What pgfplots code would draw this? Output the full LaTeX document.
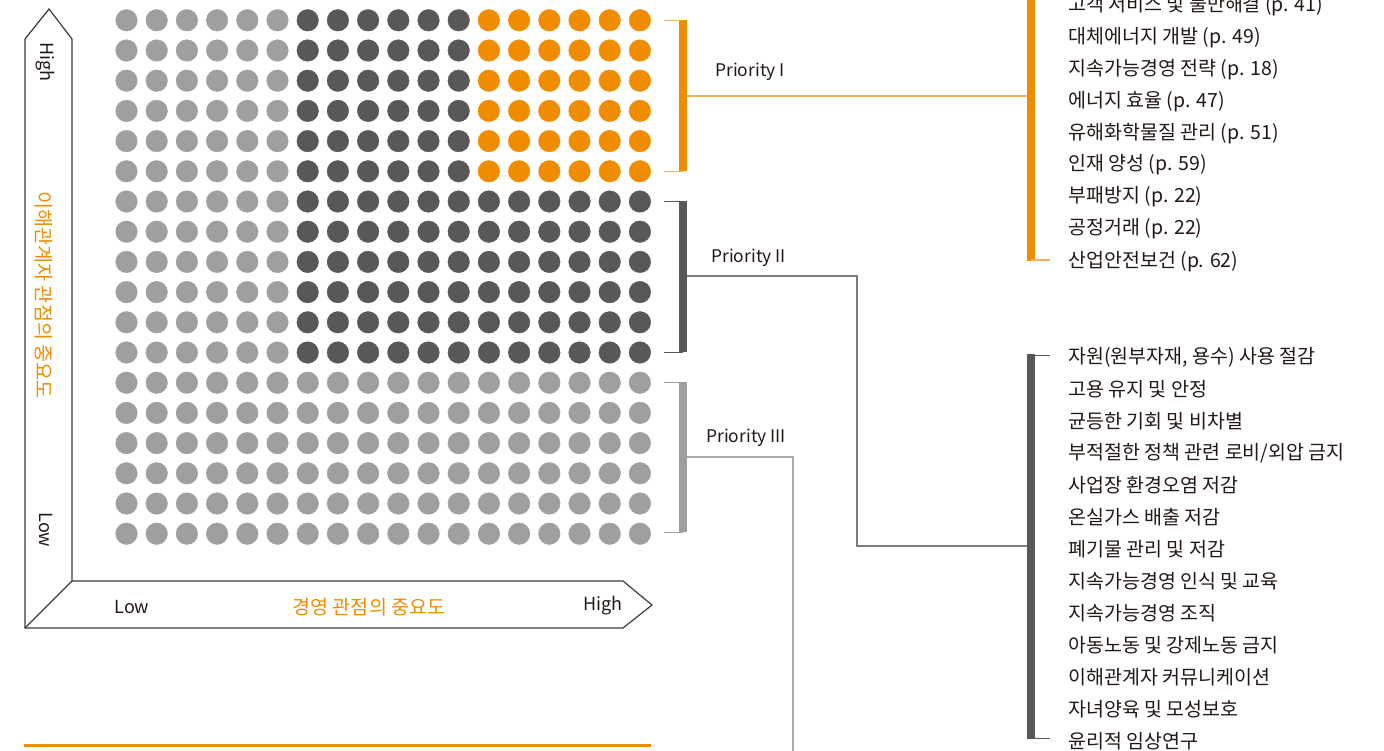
\documentclass[border=0pt]{standalone}
\usepackage{pgfplots}
\pgfplotsset{compat=1.18}
\usepackage{fontspec}
\setmainfont{Noto Sans CJK KR}
\definecolor{orng}{RGB}{240,140,0}
\definecolor{orngl}{RGB}{245,175,90}
\definecolor{dgray}{RGB}{89,87,87}
\definecolor{lgray}{RGB}{158,159,158}
\definecolor{cgray}{RGB}{125,125,125}
\definecolor{cgrayl}{RGB}{170,170,170}
\definecolor{txt}{RGB}{35,24,21}
\definecolor{frame}{RGB}{62,58,57}

\begin{document}
\begin{tikzpicture}
\useasboundingbox (0,0) rectangle (692pt,375pt);
\clip (0,0) rectangle (692pt,375pt);
% dot matrix: column / row index (row 1 at top)
\begin{axis}[scale only axis, width=692pt, height=375pt, hide axis,
    xmin=-3.1887, xmax=42.639, ymin=0.3278, ymax=25.162, y dir=reverse, clip=false]
\addplot[lgray, only marks, mark=*, mark size=5.4pt, mark options={line width=0.2pt}] coordinates {
(1,1) (2,1) (3,1) (4,1) (5,1) (6,1)
(1,2) (2,2) (3,2) (4,2) (5,2) (6,2)
(1,3) (2,3) (3,3) (4,3) (5,3) (6,3)
(1,4) (2,4) (3,4) (4,4) (5,4) (6,4)
(1,5) (2,5) (3,5) (4,5) (5,5) (6,5)
(1,6) (2,6) (3,6) (4,6) (5,6) (6,6)
(1,7) (2,7) (3,7) (4,7) (5,7) (6,7)
(1,8) (2,8) (3,8) (4,8) (5,8) (6,8)
(1,9) (2,9) (3,9) (4,9) (5,9) (6,9)
(1,10) (2,10) (3,10) (4,10) (5,10) (6,10)
(1,11) (2,11) (3,11) (4,11) (5,11) (6,11)
(1,12) (2,12) (3,12) (4,12) (5,12) (6,12)
(1,13) (2,13) (3,13) (4,13) (5,13) (6,13) (7,13) (8,13) (9,13) (10,13) (11,13) (12,13) (13,13) (14,13) (15,13) (16,13) (17,13) (18,13)
(1,14) (2,14) (3,14) (4,14) (5,14) (6,14) (7,14) (8,14) (9,14) (10,14) (11,14) (12,14) (13,14) (14,14) (15,14) (16,14) (17,14) (18,14)
(1,15) (2,15) (3,15) (4,15) (5,15) (6,15) (7,15) (8,15) (9,15) (10,15) (11,15) (12,15) (13,15) (14,15) (15,15) (16,15) (17,15) (18,15)
(1,16) (2,16) (3,16) (4,16) (5,16) (6,16) (7,16) (8,16) (9,16) (10,16) (11,16) (12,16) (13,16) (14,16) (15,16) (16,16) (17,16) (18,16)
(1,17) (2,17) (3,17) (4,17) (5,17) (6,17) (7,17) (8,17) (9,17) (10,17) (11,17) (12,17) (13,17) (14,17) (15,17) (16,17) (17,17) (18,17)
(1,18) (2,18) (3,18) (4,18) (5,18) (6,18) (7,18) (8,18) (9,18) (10,18) (11,18) (12,18) (13,18) (14,18) (15,18) (16,18) (17,18) (18,18)
};
\addplot[dgray, only marks, mark=*, mark size=5.4pt, mark options={line width=0.2pt}] coordinates {
(7,1) (8,1) (9,1) (10,1) (11,1) (12,1)
(7,2) (8,2) (9,2) (10,2) (11,2) (12,2)
(7,3) (8,3) (9,3) (10,3) (11,3) (12,3)
(7,4) (8,4) (9,4) (10,4) (11,4) (12,4)
(7,5) (8,5) (9,5) (10,5) (11,5) (12,5)
(7,6) (8,6) (9,6) (10,6) (11,6) (12,6)
(7,7) (8,7) (9,7) (10,7) (11,7) (12,7) (13,7) (14,7) (15,7) (16,7) (17,7) (18,7)
(7,8) (8,8) (9,8) (10,8) (11,8) (12,8) (13,8) (14,8) (15,8) (16,8) (17,8) (18,8)
(7,9) (8,9) (9,9) (10,9) (11,9) (12,9) (13,9) (14,9) (15,9) (16,9) (17,9) (18,9)
(7,10) (8,10) (9,10) (10,10) (11,10) (12,10) (13,10) (14,10) (15,10) (16,10) (17,10) (18,10)
(7,11) (8,11) (9,11) (10,11) (11,11) (12,11) (13,11) (14,11) (15,11) (16,11) (17,11) (18,11)
(7,12) (8,12) (9,12) (10,12) (11,12) (12,12) (13,12) (14,12) (15,12) (16,12) (17,12) (18,12)
};
\addplot[orng, only marks, mark=*, mark size=5.4pt, mark options={line width=0.2pt}] coordinates {
(13,1) (14,1) (15,1) (16,1) (17,1) (18,1)
(13,2) (14,2) (15,2) (16,2) (17,2) (18,2)
(13,3) (14,3) (15,3) (16,3) (17,3) (18,3)
(13,4) (14,4) (15,4) (16,4) (17,4) (18,4)
(13,5) (14,5) (15,5) (16,5) (17,5) (18,5)
(13,6) (14,6) (15,6) (16,6) (17,6) (18,6)
};
\end{axis}
% frame, brackets and labels in pixel units (y downwards)
\begin{axis}[scale only axis, width=692pt, height=375pt, hide axis,
    xmin=0, xmax=1384, ymin=0, ymax=750, y dir=reverse, clip=false]
\draw[frame, line width=0.6pt] (25,628) -- (25,39) -- (49,9) -- (72,39) -- (72,581)
  -- (623,581) -- (652,605) -- (623,628) -- cycle;
\draw[frame, line width=0.6pt] (72,581) -- (25,628);
\begin{scope}[every node/.style={font=\fontsize{9pt}{11pt}\selectfont, inner sep=0pt}]
\node[txt, rotate=-90] at (45,62) {High};
\node[txt, rotate=-90] at (46,530) {Low};
\node[txt] at (132,607) {Low};
\node[txt] at (603,606) {High};
\end{scope}
\begin{scope}[every node/.style={font=\fontsize{9.8pt}{11pt}\selectfont, inner sep=0pt}]
\node[orng, rotate=-90] at (44,295) {이해관계자 관점의 중요도};
\node[orng] at (369,607) {경영 관점의 중요도};
\end{scope}
% priority I
\fill[orng] (679,20) rectangle (687,171);
\draw[orngl, line width=0.5pt] (664,20) -- (683,20) (664,171) -- (683,171);
\draw[orngl, line width=0.6pt] (687,96) -- (1027,96);
\fill[orng] (1027,-10) rectangle (1035,261);
\draw[orngl, line width=0.6pt] (1031,260) -- (1050,260);
% priority II
\fill[dgray] (679,201) rectangle (687,352);
\draw[dgray, line width=0.5pt] (664,201) -- (683,201) (664,352) -- (683,352);
\draw[cgray, line width=0.6pt] (687,276) -- (857,276) -- (857,546) -- (1027,546);
\fill[dgray] (1027,354) rectangle (1035,739);
\draw[dgray, line width=0.5pt] (1031,355) -- (1050,355) (1031,738) -- (1050,738);
% priority III
\fill[lgray] (679,382) rectangle (687,532);
\draw[lgray, line width=0.5pt] (664,382) -- (683,382) (664,532) -- (683,532);
\draw[cgrayl, line width=0.6pt] (687,457) -- (793,457) -- (793,760);
% bottom rule
\draw[orng, line width=1.5pt] (24,745) -- (651,745);
\begin{scope}[every node/.style={txt, anchor=west, font=\fontsize{8.7pt}{10pt}\selectfont, inner sep=0pt}]
\node at (715,72) {Priority I};
\node at (711,258) {Priority II};
\node at (706,438) {Priority III};
\end{scope}
\begin{scope}[every node/.style={txt, anchor=west, font=\fontsize{9.75pt}{11pt}\selectfont, inner sep=0pt}]
\node at (1068,6) {고객 서비스 및 불만해결 (p. 41)};
\node at (1068,38) {대체에너지 개발 (p. 49)};
\node at (1068,70) {지속가능경영 전략 (p. 18)};
\node at (1068,102) {에너지 효율 (p. 47)};
\node at (1068,134) {유해화학물질 관리 (p. 51)};
\node at (1068,165) {인재 양성 (p. 59)};
\node at (1068,197) {부패방지 (p. 22)};
\node at (1068,229) {공정거래 (p. 22)};
\node at (1068,262) {산업안전보건 (p. 62)};
\node at (1068,357) {자원(원부자재, 용수) 사용 절감};
\node at (1068,389) {고용 유지 및 안정};
\node at (1068,421) {균등한 기회 및 비차별};
\node at (1068,453) {부적절한 정책 관련 로비/외압 금지};
\node at (1068,485) {사업장 환경오염 저감};
\node at (1068,517) {온실가스 배출 저감};
\node at (1068,549) {폐기물 관리 및 저감};
\node at (1068,581) {지속가능경영 인식 및 교육};
\node at (1068,613) {지속가능경영 조직};
\node at (1068,645) {아동노동 및 강제노동 금지};
\node at (1068,677) {이해관계자 커뮤니케이션};
\node at (1068,709) {자녀양육 및 모성보호};
\node at (1068,741) {윤리적 임상연구};
\end{scope}
\end{axis}
\end{tikzpicture}
\end{document}
